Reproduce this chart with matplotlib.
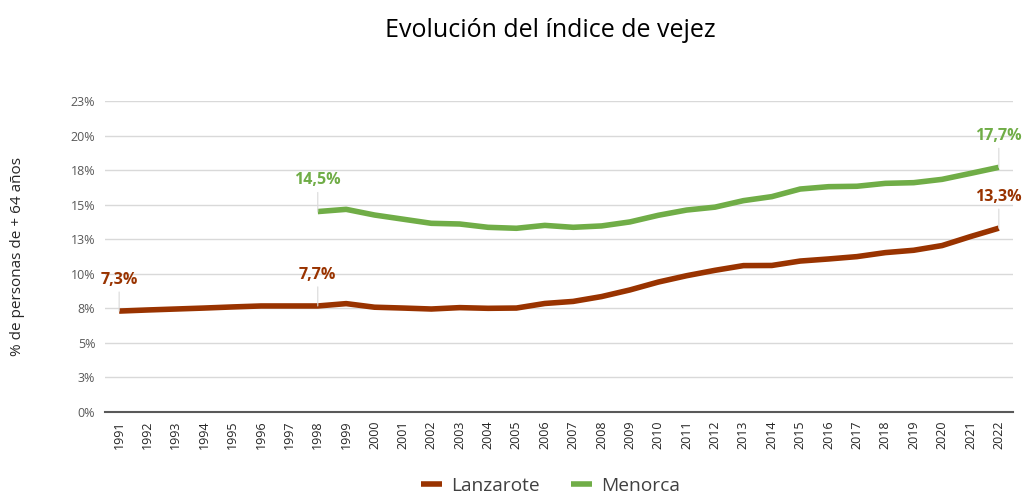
"""
Evolución del índice de vejez: Lanzarote vs Menorca (1991-2022).
"""
import matplotlib.pyplot as plt
import numpy as np

# datos
years = list(range(1991, 2023))
lanzarote = [7.3, 7.38, 7.45, 7.52, 7.6, 7.67, 7.67, 7.67, 7.84, 7.58,
             7.52, 7.45, 7.55, 7.5, 7.52, 7.85, 8.0, 8.35, 8.83, 9.4,
             9.86, 10.25, 10.59, 10.6, 10.92, 11.07, 11.24, 11.53, 11.7, 12.04,
             12.69, 13.3]
menorca_years = list(range(1998, 2023))
menorca = [14.5, 14.66, 14.25, 13.95, 13.65, 13.6, 13.36, 13.29, 13.5, 13.36,
           13.46, 13.75, 14.23, 14.61, 14.82, 15.29, 15.58, 16.13, 16.3, 16.33,
           16.54, 16.59, 16.83, 17.26, 17.7]
y_ticks = [0, 2.5, 5, 7.5, 10, 12.5, 15, 17.5, 20, 22.5]
y_ticklabels = ["0%", "3%", "5%", "8%", "10%", "13%", "15%", "18%", "20%", "23%"]

# etiquetas de datos: (año, texto)
labels_lanz = [(1991, "7,3%"), (1998, "7,7%"), (2022, "13,3%")]
labels_men = [(1998, "14,5%"), (2022, "17,7%")]

col_lanz = "#993300"
col_men = "#70AD47"

plt.rcParams["font.family"] = ["Open Sans", "DejaVu Sans"]

fig = plt.figure(figsize=(10.25, 4.95), dpi=100)
ax = fig.add_axes([0.1024, 0.1677, 0.8859, 0.6283])

ax.plot(years, lanzarote, color=col_lanz, lw=4, solid_joinstyle="round",
        solid_capstyle="butt", label="Lanzarote", zorder=3)
ax.plot(menorca_years, menorca, color=col_men, lw=4, solid_joinstyle="round",
        solid_capstyle="butt", label="Menorca", zorder=3)

# etiquetas con linea guia
for yr, txt in labels_lanz:
    val = lanzarote[years.index(yr)]
    ax.annotate(txt, (yr, val), xytext=(0, 22.5), textcoords="offset points",
                ha="center", va="center", color=col_lanz, fontsize=11.5,
                fontweight="bold", zorder=4,
                arrowprops=dict(arrowstyle="-", color="#D9D9D9", lw=0.8,
                                shrinkA=1, shrinkB=0))
for yr, txt in labels_men:
    val = menorca[menorca_years.index(yr)]
    ax.annotate(txt, (yr, val), xytext=(0, 22.5), textcoords="offset points",
                ha="center", va="center", color=col_men, fontsize=11.5,
                fontweight="bold", zorder=4,
                arrowprops=dict(arrowstyle="-", color="#D9D9D9", lw=0.8,
                                shrinkA=1, shrinkB=0))

ax.set_xlim(1990.5, 2022.5)
ax.set_ylim(0, 22.5)
ax.set_yticks(y_ticks)
ax.set_yticklabels(y_ticklabels)
ax.set_xticks(years)
ax.set_xticklabels([str(y) for y in years], rotation=90)
ax.tick_params(axis="both", length=0, labelsize=9, colors="#595959")
ax.tick_params(axis="x", pad=6, colors="#262626")
ax.tick_params(axis="y", pad=7)

ax.grid(axis="y", color="#D9D9D9", lw=1)
ax.set_axisbelow(True)
for s in ["top", "right", "left"]:
    ax.spines[s].set_visible(False)
ax.spines["bottom"].set_color("#595959")
ax.spines["bottom"].set_linewidth(1.5)

ax.set_ylabel("% de personas de + 64 años", fontsize=11, color="#262626",
              labelpad=33)
fig.text(0.537, 0.938, "Evolución del índice de vejez", ha="center", va="center",
         fontsize=18, color="black")

leg = fig.legend(loc="center", bbox_to_anchor=(0.537, 0.018), ncol=2,
                 frameon=False, fontsize=13.8, handlelength=1.1,
                 columnspacing=1.6, handletextpad=0.5)
for t in leg.get_texts():
    t.set_color("#404040")

plt.savefig("out.png", dpi=100)
